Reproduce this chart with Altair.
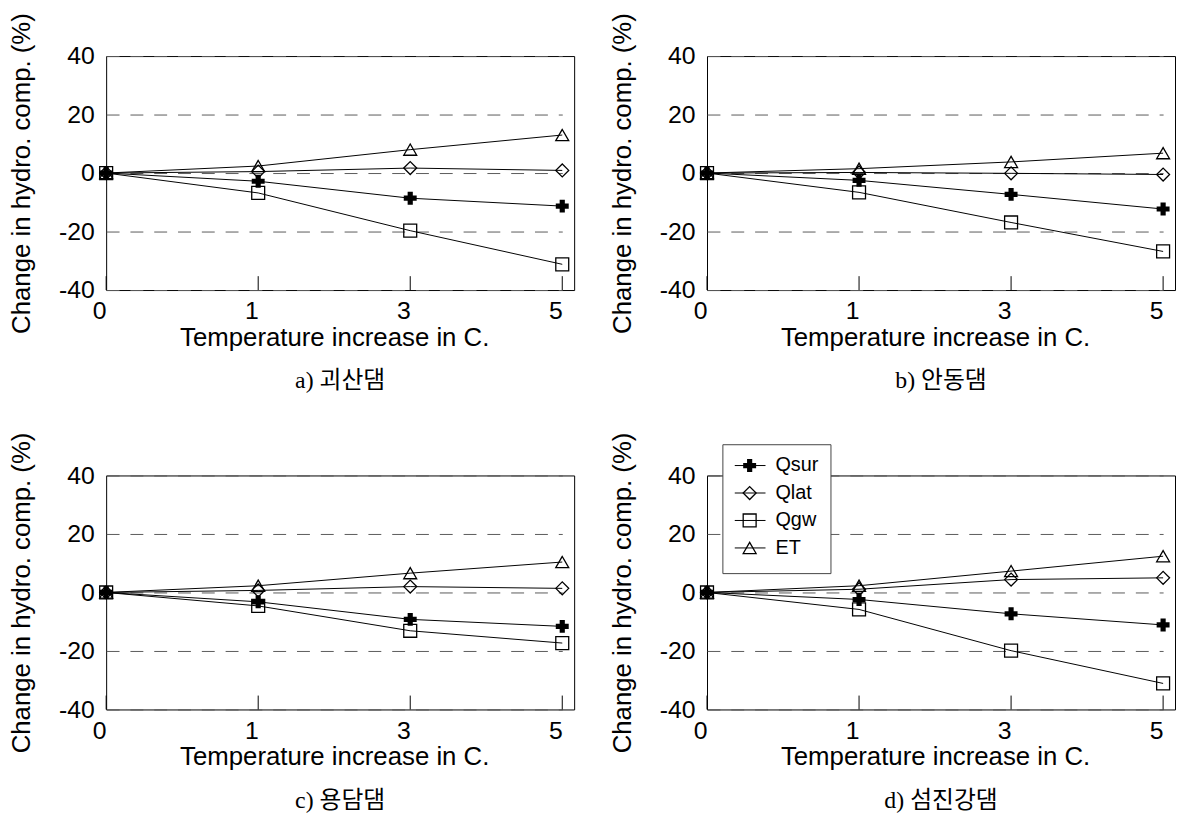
import altair as alt
import pandas as pd

temps = ["0", "1", "3", "5"]
series = ["Qsur", "Qlat", "Qgw", "ET"]
captions = ["a) 괴산댐", "b) 안동댐", "c) 용담댐", "d) 섬진강댐"]

# panel a) 괴산댐
a_qsur = [0, -2.8, -8.6, -11.3]
a_qlat = [0, 0.5, 1.7, 0.9]
a_qgw = [0, -6.8, -19.7, -31.2]
a_et = [0, 2.4, 8.0, 13.0]
# panel b) 안동댐
b_qsur = [0, -2.5, -7.3, -12.3]
b_qlat = [0, 0.2, -0.1, -0.5]
b_qgw = [0, -6.6, -16.9, -26.8]
b_et = [0, 1.5, 3.8, 6.8]
# panel c) 용담댐
c_qsur = [0, -3.2, -9.2, -11.6]
c_qlat = [0, 0.7, 2.0, 1.4]
c_qgw = [0, -4.6, -13.1, -17.3]
c_et = [0, 2.3, 6.6, 10.4]
# panel d) 섬진강댐
d_qsur = [0, -2.4, -7.3, -11.1]
d_qlat = [0, 1.1, 4.4, 5.0]
d_qgw = [0, -5.8, -19.9, -31.1]
d_et = [0, 2.3, 7.3, 12.4]

y_ticks = [-40, -20, 0, 20, 40]

W, H = 472, 236
FONT = "Liberation Sans"
CAP_FONT = "Liberation Serif, Noto Sans CJK KR"
SHAPES = ["cross", "diamond", "square", "triangle-up"]


def make_panel(caption, vals, legend=False):
    rows = []
    for s, arr in zip(series, vals):
        for t, v in zip(temps, arr):
            rows.append({"t": t, "s": s, "v": v})
    df = pd.DataFrame(rows)

    xsc = alt.Scale(type="point", domain=temps, range=[0, 460], padding=0)
    x = alt.X("t:O", sort=temps, scale=xsc,
              axis=alt.Axis(title="Temperature increase in C.", labelAngle=0,
                            grid=False, ticks=False, domain=False,
                            labelPadding=21, titlePadding=1,
                            labelFont=FONT, titleFont=FONT,
                            labelFontSize=25, titleFontSize=26,
                            titleFontWeight="normal", labelColor="black",
                            titleColor="black"))
    y = alt.Y("v:Q", scale=alt.Scale(domain=[-40, 40], nice=False),
              axis=alt.Axis(title="Change in hydro. comp. (%)", values=y_ticks,
                            labelExpr="'' + datum.value",
                            grid=True, gridDash=[13, 11], gridColor="#5a5a5a",
                            gridWidth=1, ticks=False, domain=False,
                            labelPadding=12, titlePadding=24,
                            labelFont=FONT, titleFont=FONT,
                            labelFontSize=25, titleFontSize=26,
                            titleFontWeight="normal", labelColor="black",
                            titleColor="black"))
    shp = alt.Shape("s:N", scale=alt.Scale(domain=series, range=SHAPES), legend=None)

    base = alt.Chart(df)
    lines = base.mark_line(color="black", strokeWidth=1).encode(x=x, y=y, detail="s:N")
    open_pts = base.transform_filter(alt.datum.s != "Qsur").mark_point(
        filled=False, color="black", strokeWidth=1.3, size=170, opacity=1
    ).encode(x=x, y=y, shape=shp)
    cross_pts = base.transform_filter(alt.datum.s == "Qsur").mark_point(
        shape="cross", filled=True, color="black", size=170, opacity=1
    ).encode(x=x, y=y)

    ticks = alt.Chart(pd.DataFrame({"t": temps})).mark_rule(
        color="black", strokeWidth=1
    ).encode(x=alt.X("t:O", sort=temps, scale=xsc), y=alt.value(H), y2=alt.value(H - 14))

    layers = [ticks, lines, open_pts, cross_pts]

    if legend:
        ldf = pd.DataFrame({"s": series, "i": list(range(len(series)))})
        lbase = alt.Chart(ldf).transform_calculate(py="-10 + datum.i * 27.7")
        py = alt.Y("py:Q", scale=None, axis=None)
        box = alt.Chart(pd.DataFrame({"k": [0]})).mark_rect(
            fill="white", stroke="#444", strokeWidth=1
        ).encode(x=alt.value(16), x2=alt.value(125), y=alt.value(-31), y2=alt.value(99))
        lrule = lbase.mark_rule(color="black", strokeWidth=1).encode(
            x=alt.value(28), x2=alt.value(59), y=py)
        lopen = lbase.transform_filter(alt.datum.s != "Qsur").mark_point(
            filled=False, color="black", strokeWidth=1.3, size=170, opacity=1
        ).encode(x=alt.value(43), y=py, shape=shp)
        lcross = lbase.transform_filter(alt.datum.s == "Qsur").mark_point(
            shape="cross", filled=True, color="black", size=170, opacity=1
        ).encode(x=alt.value(43), y=py)
        ltext = lbase.mark_text(align="left", baseline="middle", font=FONT,
                                fontSize=20, color="black").encode(
            x=alt.value(69), y=py, text="s:N")
        layers += [box, lrule, lopen, lcross, ltext]

    return alt.layer(*layers).properties(
        width=W, height=H,
        title=alt.TitleParams(text=caption, orient="bottom", anchor="middle",
                              font=CAP_FONT, fontSize=24, fontWeight="normal",
                              color="black", offset=19)
    )


pa = make_panel(captions[0], [a_qsur, a_qlat, a_qgw, a_et])
pb = make_panel(captions[1], [b_qsur, b_qlat, b_qgw, b_et])
pc = make_panel(captions[2], [c_qsur, c_qlat, c_qgw, c_et])
pd_ = make_panel(captions[3], [d_qsur, d_qlat, d_qgw, d_et], legend=True)

chart = alt.vconcat(
    alt.hconcat(pa, pb, spacing=34),
    alt.hconcat(pc, pd_, spacing=34),
    spacing=37,
).properties(
    padding={"left": 0, "top": 0, "right": 0, "bottom": 0},
    background="white",
).configure_view(
    stroke="black", strokeWidth=1
)

chart.save("out.html", embed_options={"renderer": "svg", "actions": False})
